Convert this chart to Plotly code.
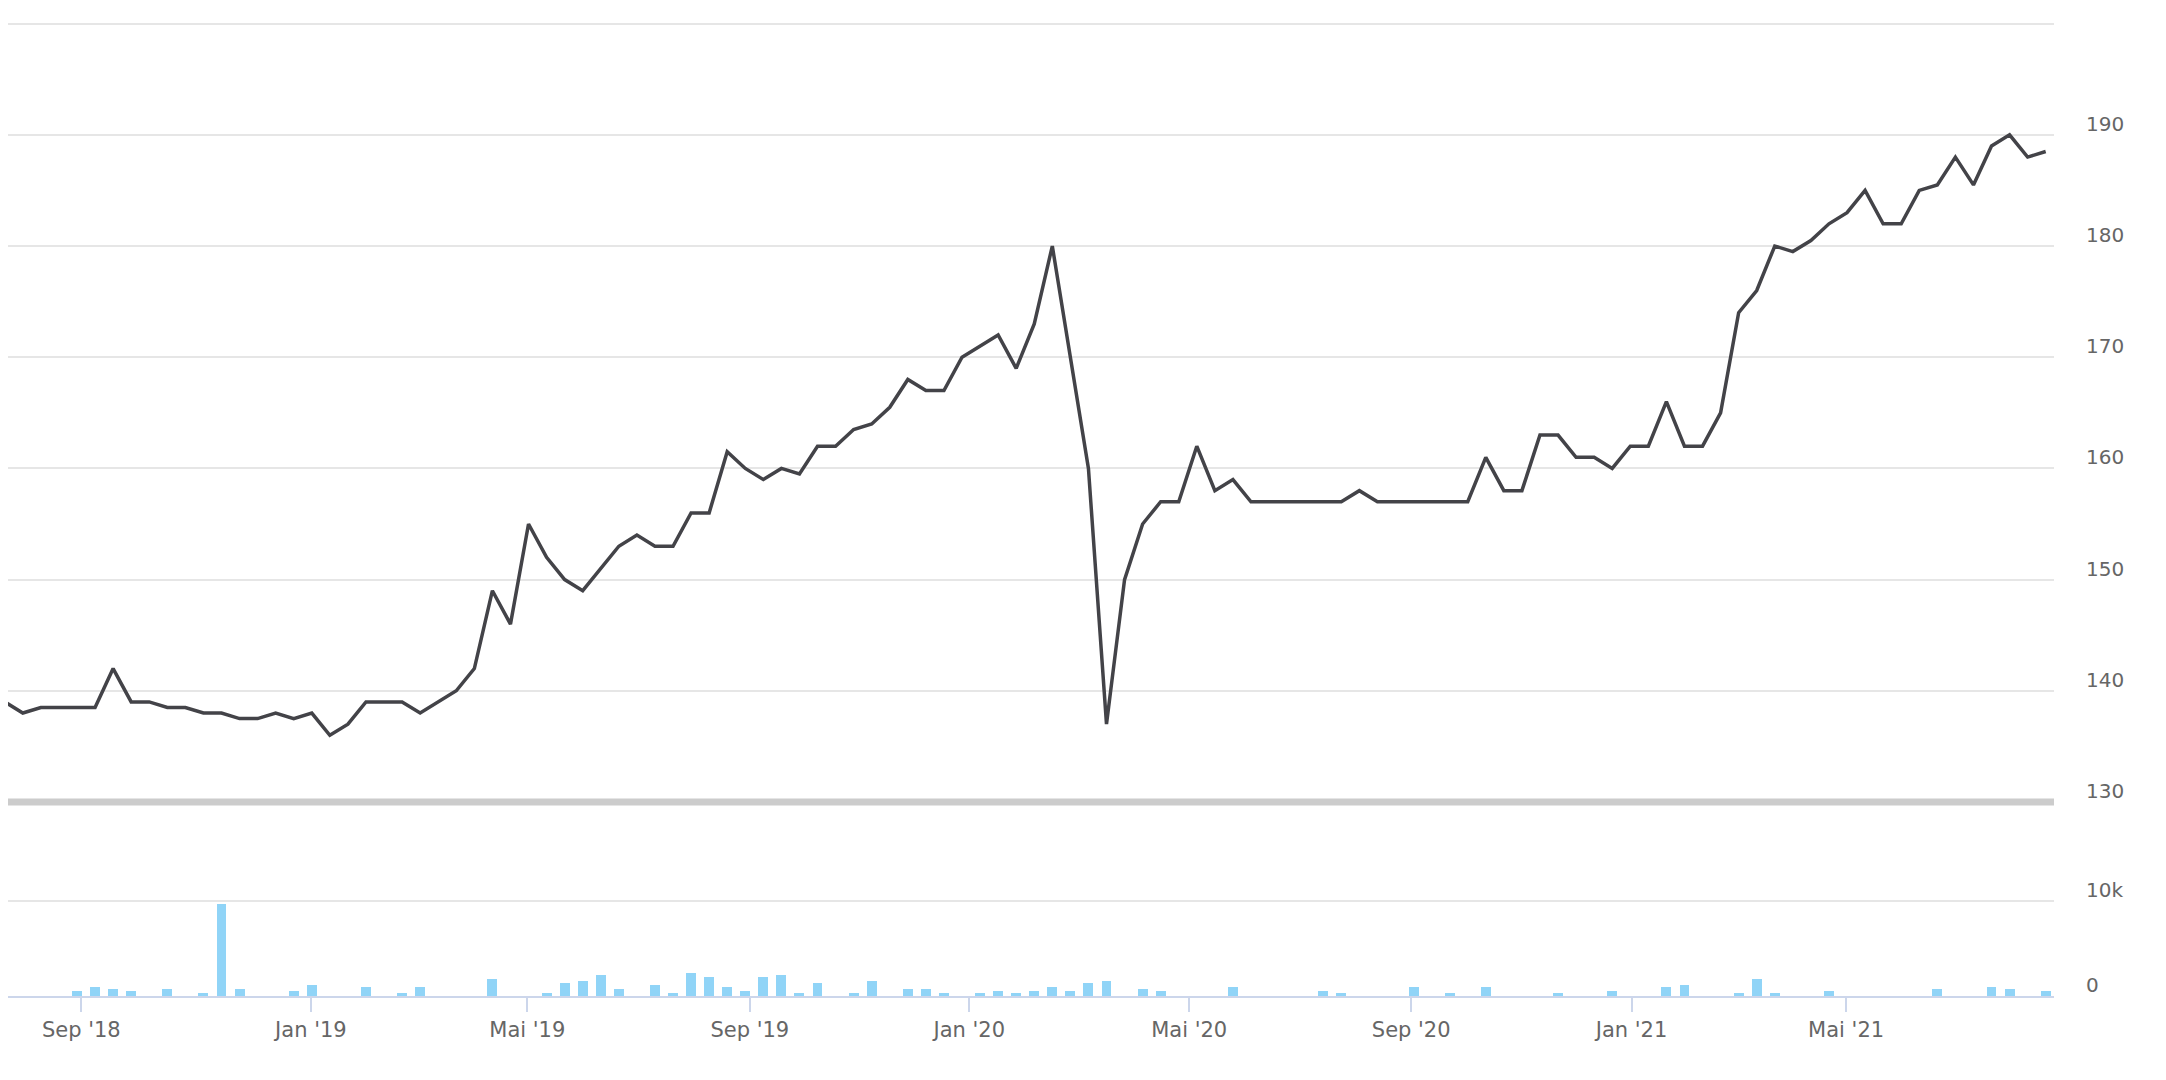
import plotly.graph_objects as go

# ---- data ----
price = [
    139, 138, 138.5, 138.5, 138.5, 138.5, 142, 139, 139, 138.5,
    138.5, 138, 138, 137.5, 137.5, 138, 137.5, 138, 136, 137,
    139, 139, 139, 138, 139, 140, 142, 149, 146, 155,
    152, 150, 149, 151, 153, 154, 153, 153, 156, 156,
    161.5, 160, 159, 160, 159.5, 162, 162, 163.5, 164, 165.5,
    168, 167, 167, 170, 171, 172, 169, 173, 180, 170,
    160, 137, 150, 155, 157, 157, 162, 158, 159, 157,
    157, 157, 157, 157, 157, 158, 157, 157, 157, 157,
    157, 157, 161, 158, 158, 163, 163, 161, 161, 160,
    162, 162, 166, 162, 162, 165, 174, 176, 180, 179.5,
    180.5, 182, 183, 185, 182, 182, 185, 185.5, 188, 185.5,
    189, 190, 188, 188.5,
]

volume = [
    0, 0, 0, 0, 490, 900, 690, 490, 0, 690,
    0, 280, 9650, 690, 0, 0, 490, 1110, 0, 0,
    900, 0, 280, 900, 0, 0, 0, 1740, 0, 0,
    280, 1320, 1530, 2150, 690, 0, 1110, 280, 2360, 1940,
    900, 490, 1940, 2150, 280, 1320, 0, 280, 1530, 0,
    690, 690, 280, 0, 280, 490, 280, 490, 900, 490,
    1320, 1530, 0, 690, 490, 0, 0, 0, 900, 0,
    0, 0, 0, 490, 280, 0, 0, 0, 900, 0,
    280, 0, 900, 0, 0, 0, 280, 0, 0, 490,
    0, 0, 900, 1110, 0, 0, 280, 1740, 280, 0,
    0, 490, 0, 0, 0, 0, 0, 690, 0, 0,
    900, 690, 0, 490,
]

# month-start tick positions, expressed in point-index units of the ordinal axis
tick_labels = ["Sep '18", "Jan '19", "Mai '19", "Sep '19", "Jan '20",
               "Mai '20", "Sep '20", "Jan '21", "Mai '21"]
tick_index = [4.24, 16.95, 28.93, 41.25, 53.4, 65.58, 77.87, 90.07, 101.95]

price_ticks = [130, 140, 150, 160, 170, 180, 190, 200]
price_ticktext = ["130", "140", "150", "160", "170", "180", "190", ""]
vol_ticks = [0, 10000]
vol_ticktext = ["0", "10k"]

idx = list(range(len(price)))

FONT = "DejaVu Sans"
LABEL = "#666666"
GRID = "#e6e6e6"
PRICE_DOMAIN = [0.1992, 1]
VOL_DOMAIN = [0, 0.1858]

fig = go.Figure()
fig.add_trace(go.Bar(
    x=idx, y=volume, xaxis="x", yaxis="y",
    marker=dict(color="#90d4f7", line=dict(width=0)),
    width=0.55, hoverinfo="skip", showlegend=False,
))
fig.add_trace(go.Scatter(
    x=idx, y=price, xaxis="x2", yaxis="y2", mode="lines",
    line=dict(color="#434348", width=3.5),
    hoverinfo="skip", showlegend=False,
))

# thick separator line along the bottom edge of the price pane
fig.add_shape(
    type="line", xref="paper", x0=0, x1=1,
    yref="paper", y0=PRICE_DOMAIN[0], y1=PRICE_DOMAIN[0],
    line=dict(color="#cccccc", width=7), layer="above",
)

# the browser page has an 8px body margin: figure sized to fit the window
fig.update_layout(
    width=2158, height=1072,
    margin=dict(l=0, r=112, t=14, b=84),
    paper_bgcolor="white", plot_bgcolor="white",
    bargap=0,
    xaxis=dict(
        domain=[0, 1], anchor="y", range=[0.18, 113.46],
        tickvals=tick_index, ticktext=tick_labels,
        ticks="outside", ticklen=14, tickwidth=2, tickcolor="#ccd6eb",
        showline=True, linecolor="#ccd6eb", linewidth=2,
        showgrid=False, zeroline=False, automargin=False,
        tickfont=dict(family=FONT, size=21, color=LABEL),
    ),
    xaxis2=dict(
        domain=[0, 1], anchor="y2", matches="x",
        showticklabels=False, ticks="", showline=False,
        showgrid=False, zeroline=False, automargin=False,
    ),
    yaxis=dict(
        domain=VOL_DOMAIN, range=[0, 19000], side="right",
        tickvals=vol_ticks, ticktext=vol_ticktext,
        showgrid=True, gridcolor=GRID, gridwidth=2,
        zeroline=False, ticks="", showline=False, automargin=False,
        ticklabelstandoff=31, ticklabelshift=-11,
        tickfont=dict(family=FONT, size=20, color=LABEL),
    ),
    yaxis2=dict(
        domain=PRICE_DOMAIN, range=[130, 200.15], side="right",
        tickvals=price_ticks, ticktext=price_ticktext,
        showgrid=True, gridcolor=GRID, gridwidth=2,
        zeroline=False, ticks="", showline=False, automargin=False,
        ticklabelstandoff=31, ticklabelshift=-11,
        tickfont=dict(family=FONT, size=20, color=LABEL),
    ),
)

fig.write_html("out.html", config={"displayModeBar": False})
